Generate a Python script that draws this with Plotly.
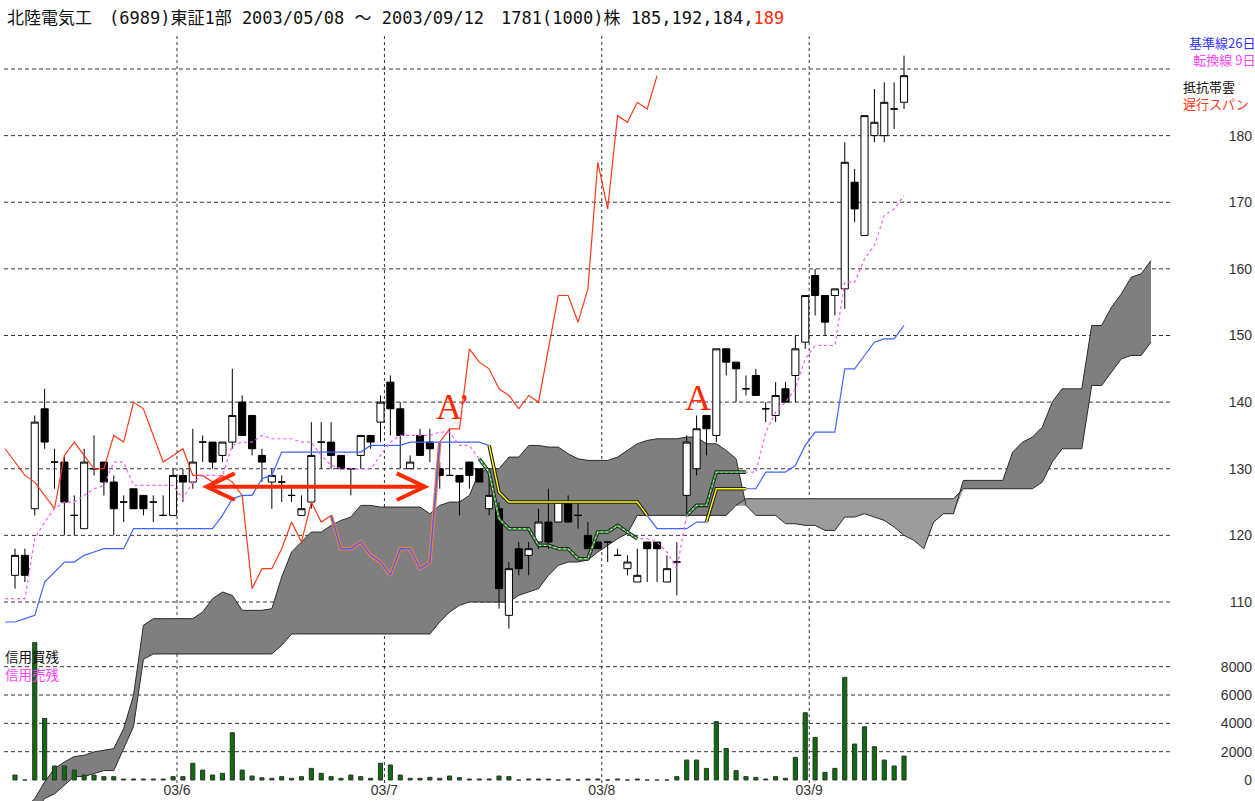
import plotly.graph_objects as go

W, H = 1255, 801

# ---------------- data ----------------
day_index = list(range(91))  # trading days 2003/05/08 .. 2003/09/12
opens = [114, 117, 124, 139, 131, 131, 123, 121, 130, 131,
         128, 125, 127, 126, 125, 123, 123, 129, 128, 134,
         134, 132, 134, 140, 138, 132, 128, 128, 126, 123,
         125, 134, 134, 132, 130, 132, 135, 137, 143, 139,
         130, 135, 134, 130, 129, 129, 131, 130, 124, 124,
         108, 118, 117, 119, 122, 122, 125, 123, 120, 119,
         119, 117, 115, 113, 119, 119, 113, 116, 126, 130,
         138, 135, 148, 146, 142, 144, 139, 138, 142, 144,
         149, 159, 156, 156, 157, 173, 165, 180, 180, 184,
         185]
highs = [118, 118, 138, 142, 133, 132, 126, 133, 135, 131,
         129, 126, 127, 126, 126, 126, 130, 130, 136, 135,
         134, 134, 145, 141, 138, 133, 130, 129, 127, 126,
         137, 137, 137, 132, 130, 135, 135, 141, 144, 140,
         132, 136, 136, 131, 136, 129, 131, 130, 130, 125,
         116, 119, 119, 124, 127, 125, 126, 125, 122, 119,
         119, 118, 117, 118, 119, 119, 117, 119, 135, 138,
         138, 148, 148, 146, 144, 145, 140, 143, 143, 150,
         156, 160, 156, 157, 179, 175, 183, 187, 188, 188,
         192]
lows = [112, 113, 123, 133, 127, 120, 120, 121, 129, 126,
        120, 122, 124, 123, 122, 123, 123, 125, 127, 131,
        130, 131, 133, 135, 132, 128, 124, 125, 125, 123,
        124, 130, 130, 130, 126, 130, 133, 134, 135, 130,
        130, 132, 131, 127, 129, 123, 127, 128, 123, 109,
        106, 114, 114, 118, 118, 122, 122, 121, 118, 118,
        116, 117, 114, 113, 113, 113, 113, 111, 123, 129,
        132, 134, 144, 140, 141, 141, 137, 137, 140, 140,
        148, 153, 150, 153, 154, 167, 165, 179, 179, 181,
        184]
closes = [117, 114, 137, 134, 131, 125, 123, 131, 130, 128,
          124, 125, 124, 124, 125, 123, 129, 128, 131, 134,
          131, 134, 138, 135, 133, 131, 129, 128, 126, 124,
          132, 134, 132, 130, 130, 135, 134, 140, 139, 135,
          131, 132, 133, 129, 129, 128, 129, 128, 126, 112,
          115, 115, 118, 122, 119, 125, 122, 123, 118, 118,
          119, 117, 116, 114, 118, 118, 115, 116, 134, 136,
          136, 148, 146, 145, 142, 141, 139, 141, 140, 148,
          156, 156, 152, 157, 176, 169, 183, 182, 185, 184,
          189]
volumes = [350, 0, 9700, 4350, 990, 990, 700, 350, 350, 235,
           235, 70, 70, 70, 70, 70, 235, 235, 1180, 700,
           350, 470, 3340, 700, 280, 160, 120, 235, 120, 235,
           820, 470, 235, 120, 350, 235, 120, 1180, 1060, 350,
           120, 120, 190, 120, 280, 160, 70, 70, 70, 280,
           235, 0, 70, 70, 70, 0, 70, 0, 70, 70,
           0, 70, 0, 70, 0, 0, 0, 235, 1410, 1410,
           820, 4120, 2230, 660, 235, 190, 70, 235, 120, 1600,
           4750, 3010, 540, 820, 7250, 2540, 3760, 2350, 1410, 990,
           1690]

line_index = list(range(-1, 91))
tenkan = [110.5, 110.5, 110.5, 119.5, 122, 124, 125, 125, 126, 127,
          127.5, 131, 131, 127.5, 127.5, 127.5, 127.5, 127.5, 125.5, 128,
          129, 129, 129, 133.5, 134, 134, 135, 134.5, 134.5, 134.5,
          134, 134, 132, 130.5, 130, 130, 130, 130, 132, 134,
          135, 135, 135, 135, 135.5, 135.5, 133.5, 133.5, 131.5, 129.5,
          122.5, 121, 121, 121, 118.5, 118.5, 118, 118, 116.5, 116.5,
          120.5, 120.5, 121.5, 120.5, 119.5, 119.5, 119, 117.5, 115, 123,
          124.5, 124.5, 129.5, 129.5, 129.5, 129.5, 129.5, 135.5, 138.5, 140,
          142, 146.5, 148.5, 148.5, 148.5, 158, 158, 161.5, 163.5, 168,
          169, 171]
kijun = [107, 107, 107.5, 108, 113, 114.5, 116, 116, 117, 117.5,
         118, 118, 118, 121, 121, 121, 121, 121, 121, 121,
         121, 121, 123, 125.5, 126, 126, 128.5, 129, 132.5, 132.5,
         132.5, 132.5, 132.5, 132.5, 132.5, 132.5, 132.5, 133.5, 133.5, 133.5,
         133.5, 134, 134, 134, 134, 134, 134, 134, 134, 133.5,
         126.5, 125, 125, 125, 125, 125, 125, 125, 125, 125,
         125, 125, 125, 125, 125, 123, 121, 121, 121, 121,
         122, 122, 127, 127, 127, 127, 127, 129.5, 129.5, 129.5,
         130.5, 133.5, 135.5, 135.5, 135.5, 145, 145, 147, 149, 149.5,
         149.5, 151.5]

cloud_index = list(range(0, 116))
senkou_a = [78, 79, 80.5, 83, 85, 86, 86.8, 87, 87.5, 87.8,
            88, 91, 96, 106.5, 107.5, 107.5, 107.5, 107.5, 107.5, 108.5,
            110.5, 111.5, 111, 108.75, 108.75, 108.75, 109, 113.75, 117.5, 119,
            120.5, 120.5, 121.5, 122.25, 122.75, 124.5, 124.5, 124.25, 124.25, 124.25,
            124.25, 124.25, 123.25, 124.5, 125, 125, 126, 129.5, 130, 130,
            131.75, 131.75, 133.5, 133.5, 133.25, 133.25, 132.25, 131.5, 131.25, 131.25,
            131.25, 131.75, 132.75, 133.75, 134.25, 134.5, 134.5, 134.5, 134.75, 134.75,
            133.75, 133.75, 132.75, 131.5, 124.5, 123, 123, 123, 121.75, 121.75,
            121.5, 121.5, 120.75, 120.75, 122.75, 122.75, 123.25, 122.75, 122.25, 121.25,
            120, 119.25, 118, 122, 123.25, 123.25, 128.25, 128.25, 128.25, 128.25,
            128.25, 132.5, 134, 134.75, 136.25, 140, 142, 142, 142, 151.5,
            151.5, 154.25, 156.25, 158.75, 159.25, 161.25]
senkou_b = [76, 77, 78.5, 80.5, 81.2, 82.5, 83.8, 83.8, 84.2, 84.7,
            84.7, 88, 91.3, 101.4, 102.2, 102.2, 102.2, 102.2, 102.2, 102.2,
            102.2, 102.2, 102.2, 102.2, 102.2, 102.2, 102.2, 103.5, 105.2, 105.2,
            105.2, 105.2, 105.2, 105.2, 105.2, 105.2, 105.2, 105.2, 105.2, 105.2,
            105.2, 105.2, 105.2, 107, 108.5, 109.5, 110, 110, 110, 110,
            110, 111, 111.5, 112, 114, 115.5, 116, 116, 116.3, 117.5,
            118.5, 119.5, 120.3, 123, 123, 123, 123, 123, 123, 123,
            123, 123, 123, 124.5, 125.5, 125.5, 125.5, 125.5, 125.5, 125.5,
            125.5, 125.5, 125.5, 125.5, 125.5, 125.5, 125.5, 125.5, 125.5, 125.5,
            125.5, 125.5, 125.5, 125.5, 125.5, 125.5, 127, 127, 127, 127,
            127, 127, 127, 127, 128, 131, 133, 133, 133, 142.5,
            142.5, 144.5, 146.5, 147, 147, 149]

chikou_shift = 25
month_labels = ["03/6", "03/7", "03/8", "03/9"]
month_first_day = [17, 38, 60, 81]
price_grid = [110, 120, 130, 140, 150, 160, 170, 180, 190]
price_ticks = [110, 120, 130, 140, 150, 160, 170, 180]
volume_grid = [2000, 4000, 6000, 8000]
volume_ticks = [0, 2000, 4000, 6000, 8000]

# ---------------- geometry ----------------
X0_PX, DX_PX = 15.0, 9.878
P_REF_Y, P_REF, P_SCALE = 69.0, 190.0, 6.6625
V0_Y, V_SCALE = 780.0, 113.3 / 8000.0
x_range = [(0 - X0_PX) / DX_PX, (W - X0_PX) / DX_PX]
y_range = [P_REF - (H - P_REF_Y) / P_SCALE, P_REF + P_REF_Y / P_SCALE]
y2_range = [-(H - V0_Y) / V_SCALE, V0_Y / V_SCALE]


def px(xp):
    return xp / W


def py(yp):
    return 1 - yp / H


GRID_X0, GRID_X1 = (4 - X0_PX) / DX_PX, (1170 - X0_PX) / DX_PX
month_pos = [d - 0.6 for d in month_first_day]

fig = go.Figure()

# ---------------- cloud (bottom subplot) ----------------
cloud_lo = [min(a, b) for a, b in zip(senkou_a, senkou_b)]
nl = dict(width=0)
fig.add_trace(go.Scatter(x=cloud_index, y=cloud_lo, mode="lines", line=nl, hoverinfo="skip"))
fig.add_trace(go.Scatter(x=cloud_index, y=senkou_a, mode="lines", line=nl, fill="tonexty",
                         fillcolor="#7f7f7f", hoverinfo="skip"))
fig.add_trace(go.Scatter(x=cloud_index, y=cloud_lo, mode="lines", line=nl, hoverinfo="skip"))
fig.add_trace(go.Scatter(x=cloud_index, y=senkou_b, mode="lines", line=nl, fill="tonexty",
                         fillcolor="#9c9c9c", hoverinfo="skip"))
fig.add_trace(go.Scatter(x=cloud_index, y=senkou_a, mode="lines",
                         line=dict(color="#2b2b2b", width=1), hoverinfo="skip"))
fig.add_trace(go.Scatter(x=cloud_index, y=senkou_b, mode="lines",
                         line=dict(color="#2b2b2b", width=1), hoverinfo="skip"))

# ---------------- volume ----------------
fig.add_trace(go.Bar(x=day_index, y=volumes, width=0.42, yaxis="y2",
                     marker=dict(color="#0a6e0a", line=dict(color="#303030", width=1)),
                     hoverinfo="skip"))

# ---------------- candles ----------------
fig.add_trace(go.Candlestick(
    x=day_index, open=opens, high=highs, low=lows, close=closes, yaxis="y3",
    whiskerwidth=0,
    increasing=dict(fillcolor="white", line=dict(color="black", width=1)),
    decreasing=dict(fillcolor="black", line=dict(color="black", width=1)),
    hoverinfo="skip"))

# ---------------- indicator lines ----------------
a_at = dict(zip(cloud_index, senkou_a))
b_at = dict(zip(cloud_index, senkou_b))


def inside(x, v):
    if x not in a_at:
        return False
    lo, hi = sorted((a_at[x], b_at[x]))
    return lo < v < hi


def cloud_runs(xs, ys):
    ox, oy = [], []
    open_run = False
    for k in range(len(xs) - 1):
        flag = inside(xs[k], ys[k]) or inside(xs[k + 1], ys[k + 1])
        if flag:
            if not open_run:
                ox.append(xs[k]); oy.append(ys[k])
                open_run = True
            ox.append(xs[k + 1]); oy.append(ys[k + 1])
        elif open_run:
            ox.append(None); oy.append(None)
            open_run = False
    return ox, oy


chikou_x = [d - chikou_shift for d in day_index[chikou_shift - 1:]]
chikou_y = closes[chikou_shift - 1:]

# normal lines
fig.add_trace(go.Scatter(x=chikou_x, y=chikou_y, mode="lines", yaxis="y3",
                         line=dict(color="#ff3a1a", width=1.2), hoverinfo="skip"))
fig.add_trace(go.Scatter(x=line_index, y=kijun, mode="lines", yaxis="y3",
                         line=dict(color="#3f63ff", width=1.2), hoverinfo="skip"))
fig.add_trace(go.Scatter(x=line_index, y=tenkan, mode="lines", yaxis="y3",
                         line=dict(color="#ff55ff", width=1.2, dash="3px,3px"), hoverinfo="skip"))

# in-cloud highlighted parts
kx, ky = cloud_runs(line_index, kijun)
fig.add_trace(go.Scatter(x=kx, y=ky, mode="lines", yaxis="y3",
                         line=dict(color="#222222", width=3.6), hoverinfo="skip"))
fig.add_trace(go.Scatter(x=kx, y=ky, mode="lines", yaxis="y3",
                         line=dict(color="#ffff00", width=1.4), hoverinfo="skip"))
tx, ty = cloud_runs(line_index, tenkan)
fig.add_trace(go.Scatter(x=tx, y=ty, mode="lines", yaxis="y3",
                         line=dict(color="#222222", width=3.6), hoverinfo="skip"))
fig.add_trace(go.Scatter(x=tx, y=ty, mode="lines", yaxis="y3",
                         line=dict(color="#dddddd", width=1.4), hoverinfo="skip"))
fig.add_trace(go.Scatter(x=tx, y=ty, mode="lines", yaxis="y3",
                         line=dict(color="#00b000", width=1.4, dash="3px,2px"), hoverinfo="skip"))
cx, cy = cloud_runs(chikou_x, chikou_y)
fig.add_trace(go.Scatter(x=cx, y=cy, mode="lines", yaxis="y3",
                         line=dict(color="#ff7a3a", width=3.6), hoverinfo="skip"))
fig.add_trace(go.Scatter(x=cx, y=cy, mode="lines", yaxis="y3",
                         line=dict(color="#3f63ff", width=1.4), hoverinfo="skip"))

# ---------------- grid shapes ----------------
shapes = []
grid_line = dict(color="#333333", width=1, dash="4px,3px")
for p in price_grid:
    shapes.append(dict(type="line", xref="x", yref="y", x0=GRID_X0, x1=GRID_X1, y0=p, y1=p,
                       line=grid_line, layer="below"))
for v in volume_grid:
    shapes.append(dict(type="line", xref="x", yref="y2", x0=GRID_X0, x1=GRID_X1, y0=v, y1=v,
                       line=grid_line, layer="below"))
for m in month_pos:
    shapes.append(dict(type="line", xref="x", yref="paper", x0=m, x1=m, y0=py(783), y1=py(35),
                       line=dict(color="#333333", width=1, dash="3px,3px"), layer="below"))

# red double arrow
ARROW_Y = 127.3
ax0, ax1 = 19.4, 41.5
head_dx, head_dy = 2.85, 2.0
arrow_line = dict(color="#ff2a00", width=4)
shapes.append(dict(type="line", xref="x", yref="y3", x0=ax0, x1=ax1, y0=ARROW_Y, y1=ARROW_Y,
                   line=arrow_line))
shapes.append(dict(type="path", xref="x", yref="y3",
                   path=f"M {ax1 - head_dx},{ARROW_Y + head_dy} L {ax1},{ARROW_Y} L {ax1 - head_dx},{ARROW_Y - head_dy}",
                   line=arrow_line))
shapes.append(dict(type="path", xref="x", yref="y3",
                   path=f"M {ax0 + head_dx},{ARROW_Y + head_dy} L {ax0},{ARROW_Y} L {ax0 + head_dx},{ARROW_Y - head_dy}",
                   line=arrow_line))

# ---------------- texts ----------------
cjk = "Noto Sans CJK JP"
title_font = "DejaVu Sans Mono, Noto Sans CJK JP"
annotations = [
    dict(text="北陸電気工　(6989)東証1部 2003/05/08 ～ 2003/09/12　1781(1000)株 185,192,184,"
              "<span style='color:#ff2a00'>189</span>",
         x=px(5), y=py(18), xref="paper", yref="paper", xanchor="left", yanchor="middle",
         showarrow=False, font=dict(family=title_font, size=17, color="#111111")),
    dict(text="<span style='color:#3333ff'>基準線26日</span><br>"
              "<span style='color:#ff44ff'>転換線 9日</span>",
         x=px(1256), y=py(51), xref="paper", yref="paper", xanchor="right", yanchor="middle",
         align="right", showarrow=False, borderpad=0,
         font=dict(family=cjk, size=13, color="#3333ff")),
    dict(text="抵抗帯雲<br><span style='color:#ff3a1a'>遅行スパン</span>",
         x=px(1182), y=py(95), xref="paper", yref="paper", xanchor="left", yanchor="middle",
         align="left", showarrow=False, borderpad=0,
         font=dict(family=cjk, size=13, color="#111111")),
    dict(text="信用買残<br><span style='color:#ff44ff'>信用売残</span>",
         x=px(4), y=py(664.5), xref="paper", yref="paper", xanchor="left", yanchor="middle",
         align="left", showarrow=False, borderpad=0,
         font=dict(family=cjk, size=13.5, color="#111111")),
    dict(text="A’", x=px(434), y=py(407), xref="paper", yref="paper", xanchor="left",
         yanchor="middle", showarrow=False,
         font=dict(family="Liberation Serif", size=36, color="#ff2a00")),
    dict(text="A", x=px(698), y=py(398), xref="paper", yref="paper", xanchor="center",
         yanchor="middle", showarrow=False,
         font=dict(family="Liberation Serif", size=36, color="#ff2a00")),
]

tick_font = dict(family="Liberation Sans Narrow, Liberation Sans, Arial", size=14, color="#333333")

fig.update_layout(
    width=W, height=H, autosize=False,
    margin=dict(l=0, r=0, t=0, b=0, pad=0),
    paper_bgcolor="white", plot_bgcolor="white",
    showlegend=False, boxgap=0.28, boxgroupgap=0,
    xaxis=dict(range=x_range, showgrid=False, zeroline=False, showline=False,
               tickmode="array", tickvals=month_pos, ticktext=month_labels,
               ticks="", ticklabelposition="inside", tickfont=tick_font,
               rangeslider=dict(visible=False), fixedrange=True),
    yaxis=dict(range=y_range, side="right", showgrid=False, zeroline=False, showline=False,
               tickmode="array", tickvals=price_ticks, ticks="", ticklabelposition="inside",
               tickfont=tick_font, fixedrange=True),
    yaxis2=dict(range=y2_range, overlaying="y", side="right", showgrid=False, zeroline=False,
                showline=False, tickmode="array", tickvals=volume_ticks, ticks="",
                ticklabelposition="inside", tickfont=tick_font, fixedrange=True),
    yaxis3=dict(range=y_range, overlaying="y", side="right", visible=False, fixedrange=True),
    shapes=shapes,
    annotations=annotations,
)

fig.write_html("out.html", config={"displayModeBar": False},
               post_script="document.body.style.margin='0';document.body.style.overflow='hidden';")
